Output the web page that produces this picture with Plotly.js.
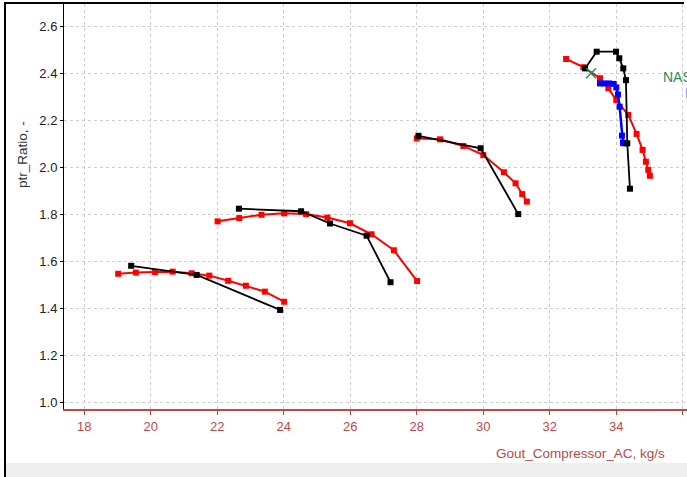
<!DOCTYPE html>
<html>
<head>
<meta charset="utf-8">
<script src="https://cdn.plot.ly/plotly-3.0.1.min.js"></script>
<style>
  html, body { margin: 0; padding: 0; overflow: hidden; background: #ffffff; }
  #frame { position: absolute; left: 4px; top: 2px; width: 678px; height: 475px;
           border-left: 2px solid #000; border-top: 2px solid #000; }
  #band { position: absolute; left: 6px; top: 463px; width: 681px; height: 14px; background: #eeeeee; }
  #chart { position: absolute; left: 0; top: 0; width: 687px; height: 477px; }
</style>
</head>
<body>
<div id="frame"></div>
<div id="band"></div>
<div id="chart"></div>
<script>
// Speed line 1
const red1G  = [19.02, 19.55, 20.13, 20.66, 21.23, 21.76, 22.33, 22.86, 23.43, 24.01];
const red1PR = [1.547, 1.552, 1.554, 1.556, 1.549, 1.539, 1.517, 1.496, 1.471, 1.428];
const blk1G  = [19.41, 21.38, 23.89];
const blk1PR = [1.581, 1.542, 1.393];

// Speed line 2
const red2G  = [22.01, 22.66, 23.33, 24.01, 24.67, 25.31, 25.99, 26.64, 27.31, 28.01];
const red2PR = [1.770, 1.784, 1.798, 1.804, 1.801, 1.786, 1.762, 1.715, 1.647, 1.516];
const blk2G  = [22.65, 24.52, 25.39, 26.49, 27.21];
const blk2PR = [1.824, 1.813, 1.761, 1.709, 1.511];

// Speed line 3
const red3G  = [28.00, 28.70, 29.40, 30.00, 30.62, 30.97, 31.17, 31.31];
const red3PR = [2.123, 2.119, 2.091, 2.052, 1.979, 1.932, 1.886, 1.854];
const blk3G  = [28.05, 29.92, 31.05];
const blk3PR = [2.134, 2.081, 1.801];

// Speed line 4
const red4G  = [32.49, 33.01, 33.51, 33.76, 34.00, 34.36, 34.61, 34.79, 34.89, 34.96, 35.01];
const red4PR = [2.461, 2.426, 2.379, 2.336, 2.286, 2.223, 2.142, 2.074, 2.024, 1.989, 1.964];
const blk4G  = [33.06, 33.41, 33.99, 34.09, 34.21, 34.29, 34.33, 34.41];
const blk4PR = [2.421, 2.492, 2.492, 2.464, 2.421, 2.371, 2.102, 1.909];
const blu4G  = [33.51, 33.62, 33.78, 33.92, 34.00, 34.05, 34.10, 34.17, 34.20, 34.22];
const blu4PR = [2.357, 2.357, 2.357, 2.355, 2.340, 2.310, 2.258, 2.135, 2.105, 2.102];

// Design point
const designG  = [33.24];
const designPR = [2.400];

// Axis ticks and labels
const xTicks = [18, 20, 22, 24, 26, 28, 30, 32, 34, 36];
const yTicks = [1.0, 1.2, 1.4, 1.6, 1.8, 2.0, 2.2, 2.4, 2.6];
const yTickText = ['1.0', '1.2', '1.4', '1.6', '1.8', '2.0', '2.2', '2.4', '2.6'];
const xTitle = 'Gout_Compressor_AC, kg/s';
const yTitle = 'ptr_Ratio, -';
const legendTexts = ['NASA', 'Map'];

const RED = '#ff0000', BLK = '#000000', BLU = '#0000ff', GRN = '#2e8b57';
const AXRED = '#b84a4a';
const FONT = '"Liberation Sans", Arial, sans-serif';

function line(x, y, color, width, msize) {
  return {
    x: x, y: y, type: 'scatter', mode: 'lines+markers',
    line: { color: color, width: width },
    marker: { symbol: 'square', size: msize, color: color },
    showlegend: false, hoverinfo: 'x+y'
  };
}

const data = [
  line(red1G, red1PR, RED, 2, 6),
  line(red2G, red2PR, RED, 2, 6),
  line(red3G, red3PR, RED, 2, 6),
  line(red4G, red4PR, RED, 2, 6),
  line(blu4G, blu4PR, BLU, 2.5, 6),
  line(blk1G, blk1PR, BLK, 1.8, 6),
  line(blk2G, blk2PR, BLK, 1.8, 6),
  line(blk3G, blk3PR, BLK, 1.8, 6),
  line(blk4G, blk4PR, BLK, 1.8, 6),
  {
    x: designG, y: designPR, type: 'scatter', mode: 'markers',
    marker: { symbol: 'x-thin', size: 10, color: GRN, line: { color: GRN, width: 1.5 } },
    showlegend: false
  }
];

const layout = {
  width: 687, height: 477,
  margin: { l: 64, r: 0, t: 4, b: 68, pad: 0 },
  paper_bgcolor: 'rgba(0,0,0,0)',
  plot_bgcolor: '#ffffff',
  font: { family: FONT, size: 13, color: '#222222' },
  showlegend: false,
  xaxis: {
    range: [17.39, 36.126],
    tickvals: xTicks, ticktext: xTicks.map(String),
    ticks: 'outside', ticklen: 4, tickwidth: 1, tickcolor: AXRED,
    tickfont: { family: FONT, size: 13, color: AXRED },
    showline: true, linecolor: AXRED, linewidth: 2,
    showgrid: true, gridcolor: '#cccccc', griddash: 'dot', gridwidth: 1,
    zeroline: false
  },
  yaxis: {
    range: [0.9715, 2.695],
    tickvals: yTicks, ticktext: yTickText,
    ticks: 'outside', ticklen: 3, tickwidth: 1, tickcolor: '#000000',
    tickfont: { family: FONT, size: 13, color: '#222222' },
    showline: true, linecolor: '#000000', linewidth: 1,
    showgrid: true, gridcolor: '#cccccc', griddash: 'dot', gridwidth: 1,
    zeroline: false
  },
  annotations: [
    {
      text: xTitle, xref: 'paper', yref: 'paper',
      x: 0.9674, y: -0.111, xanchor: 'right', yanchor: 'middle',
      showarrow: false, font: { family: FONT, size: 13.5, color: AXRED }
    },
    {
      text: yTitle, xref: 'paper', yref: 'paper', textangle: -90,
      x: -0.0674, y: 0.627, xanchor: 'center', yanchor: 'middle',
      showarrow: false, font: { family: FONT, size: 13.5, color: '#333333' }
    },
    {
      text: legendTexts[0], xref: 'paper', yref: 'paper',
      x: (661 - 64) / 623, y: (409 - 77) / 405, xanchor: 'left', yanchor: 'middle',
      showarrow: false, font: { family: FONT, size: 14, color: GRN }
    },
    {
      text: legendTexts[1], xref: 'paper', yref: 'paper',
      x: (683 - 64) / 623, y: (409 - 93) / 405, xanchor: 'left', yanchor: 'middle',
      showarrow: false, font: { family: FONT, size: 14, color: '#6f7fff' }
    }
  ]
};

Plotly.newPlot('chart', data, layout, { staticPlot: true, displayModeBar: false });
</script>
</body>
</html>
